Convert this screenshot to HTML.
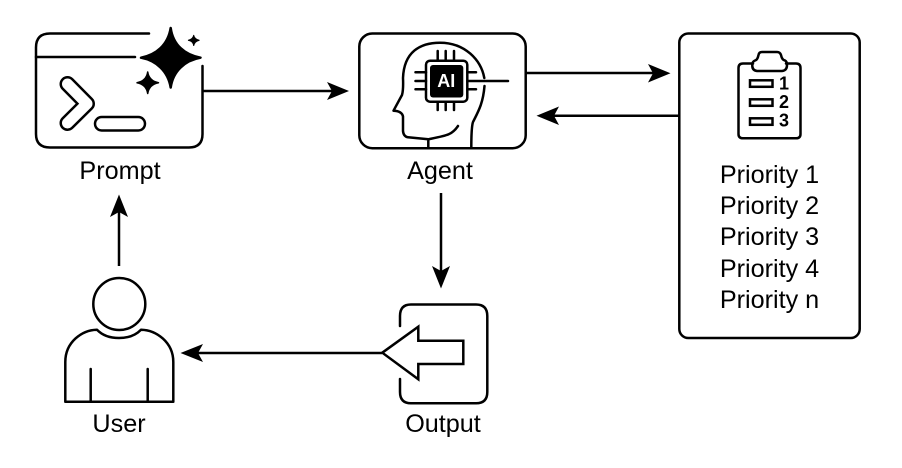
<!DOCTYPE html>
<html>
<head>
<meta charset="utf-8">
<style>
html,body{margin:0;padding:0;background:#fff;}
svg{display:block;}
text{font-family:"Liberation Sans",sans-serif;fill:#000;}
.l{font-size:25.2px;text-anchor:middle;}
.s{fill:none;stroke:#000;stroke-width:2.5;stroke-linecap:round;stroke-linejoin:round;}
.w{fill:none;stroke:#000;stroke-width:2.5;}
</style>
</head>
<body>
<svg width="902" height="468" viewBox="0 0 902 468" xmlns="http://www.w3.org/2000/svg">
<rect width="902" height="468" fill="#fff"/>

<!-- Prompt -->
<path class="s" d="M149,33.5 H50 Q36,33.5 36,47.5 V134 Q36,147.5 50,147.5 H189 Q202.5,147.5 202.5,134 V66"/>
<path class="s" d="M36,57 H135"/>
<path d="M170.7,28 C173,45 185,55 200.5,57.7 C185,60.5 173,71 170.7,87.5 C168,71 156,60.5 141,57.7 C156,55 168,45 170.7,28 Z" fill="#000" stroke="#000" stroke-width="2.5" stroke-linejoin="round"/>
<path d="M147.7,72 C148.6,78 152.5,81.6 158.5,82.7 C152.5,83.8 148.6,87.5 147.7,93.5 C146.8,87.5 143,83.8 137,82.7 C143,81.6 146.8,78 147.7,72 Z" fill="#000" stroke="#000" stroke-width="1.5" stroke-linejoin="round"/>
<path d="M193.7,35 C194.2,38 196,39.6 199.5,40.3 C196,41 194.2,42.5 193.7,46 C193.2,42.5 191.5,41 188,40.3 C191.5,39.6 193.2,38 193.7,35 Z" fill="#000" stroke="#000" stroke-width=".8"/>
<path d="M67.5,84 L87,103.7 L67.5,123" fill="none" stroke="#000" stroke-width="16" stroke-linecap="round" stroke-linejoin="round"/>
<path d="M67.5,84 L87,103.7 L67.5,123" fill="none" stroke="#fff" stroke-width="11" stroke-linecap="round" stroke-linejoin="round"/>
<rect x="95" y="117" width="50" height="13.5" rx="6.7" class="s"/>
<text class="l" x="120" y="179">Prompt</text>

<!-- Agent -->
<rect x="359.3" y="33.5" width="166.4" height="114.7" rx="13" class="w"/>
<path class="s" d="M428.3,148 V139.3 L408,137.3 Q403.5,136.5 403,131 V116.5 Q402,111 393.5,110.7 L402,95 Q403.5,90 403,78 C404,52 420,42.7 440,42.7 C465,42.7 481,60 484.3,78"/>
<path class="s" d="M484.5,86 C483,104 478,112 473,122 Q471.3,127 471.3,148"/>
<path class="s" d="M458,126 C452,135 447,135.5 428.3,139.3"/>
<rect x="426" y="60.7" width="41.3" height="41" rx="4" class="s" fill="#fff"/>
<rect x="430" y="65" width="33.3" height="32.5" rx="3" fill="#000"/>
<text x="446.3" y="87" font-size="18" font-weight="bold" text-anchor="middle" style="fill:#fff">AI</text>
<path class="s" d="M437.7,51 V60 M445.7,51 V60 M454,51 V60 M437.7,102 V110 M445.7,102 V110 M454,102 V110 M415.5,72.3 H426 M415.5,81 H426 M415.5,89.3 H426 M467.5,72.3 H476 M467.5,89.3 H476 M467.5,81 H508"/>
<text class="l" x="440" y="179">Agent</text>

<!-- Priority box -->
<rect x="679.3" y="33.5" width="180.4" height="304.5" rx="9" class="w"/>
<path class="s" d="M753,63.5 H743 Q738.5,63.5 738.5,68 V134 Q738.5,138.3 743,138.3 H796 Q800.5,138.3 800.5,134 V68 Q800.5,63.5 796,63.5 H786"/>
<path class="s" d="M762,52 H777 Q780,52 781,55 Q782,60 785,60.5 Q787,61.5 787,65 Q787,70.5 782,71 H757 Q752,70.5 752.3,65 Q752.3,61.5 755,60.5 Q757.5,60 758.5,55 Q759,52 762,52 Z"/>
<rect x="750" y="80.3" width="22.5" height="6.5" class="w"/>
<rect x="750" y="99.3" width="22.5" height="6.5" class="w"/>
<rect x="750" y="118.3" width="22.5" height="6.5" class="w"/>
<text x="784" y="89.5" font-size="18" font-weight="bold" text-anchor="middle">1</text>
<text x="784" y="108" font-size="18" font-weight="bold" text-anchor="middle">2</text>
<text x="784" y="126.5" font-size="18" font-weight="bold" text-anchor="middle">3</text>
<text class="l" x="769.5" y="183">Priority 1</text>
<text class="l" x="769.5" y="214">Priority 2</text>
<text class="l" x="769.5" y="245">Priority 3</text>
<text class="l" x="769.5" y="277">Priority 4</text>
<text class="l" x="769.5" y="308">Priority n</text>

<!-- User -->
<circle cx="119.3" cy="304" r="26" class="w"/>
<path class="s" d="M65.3,401.7 V362 C65.3,342 82,330 97,329.7 Q105,338 119,338 Q133,338 141,329.7 C156,330 173.3,342 173.3,362 V401.7 Z"/>
<path class="s" d="M90.7,369 V401 M147.7,369 V401"/>
<text class="l" x="119" y="432">User</text>

<!-- Output -->
<path class="s" d="M400,326 V316 Q400,304.5 411,304.5 H476 Q487.3,304.5 487.3,316 V392 Q487.3,403.3 476,403.3 H411 Q400,403.3 400,392 V379"/>
<path class="w" stroke-linejoin="miter" d="M382.3,352.7 L418.3,326.7 V340.7 H463.3 V364 H418.3 V379.3 Z"/>
<text class="l" x="443" y="432">Output</text>

<!-- Connectors -->
<path class="w" d="M203,91 H333"/>
<path d="M349,91 L327,82 L332,91 L327,100 Z"/>
<path class="w" d="M526,73 H654"/>
<path d="M670.5,73.3 L648,64 L653,73.3 L648,82.5 Z"/>
<path class="w" d="M679,115.7 H553"/>
<path d="M536.5,115.7 L559,106.5 L554,115.7 L559,125 Z"/>
<path class="w" d="M441,193 V272"/>
<path d="M441,288.5 L432,266 L441,271 L450,266 Z"/>
<path class="w" d="M382,353 H197"/>
<path d="M180.5,353 L203,344 L198,353 L203,362 Z"/>
<path class="w" d="M119,266 V211"/>
<path d="M119,194.5 L110,217 L119,212 L128,217 Z"/>
</svg>
</body>
</html>
